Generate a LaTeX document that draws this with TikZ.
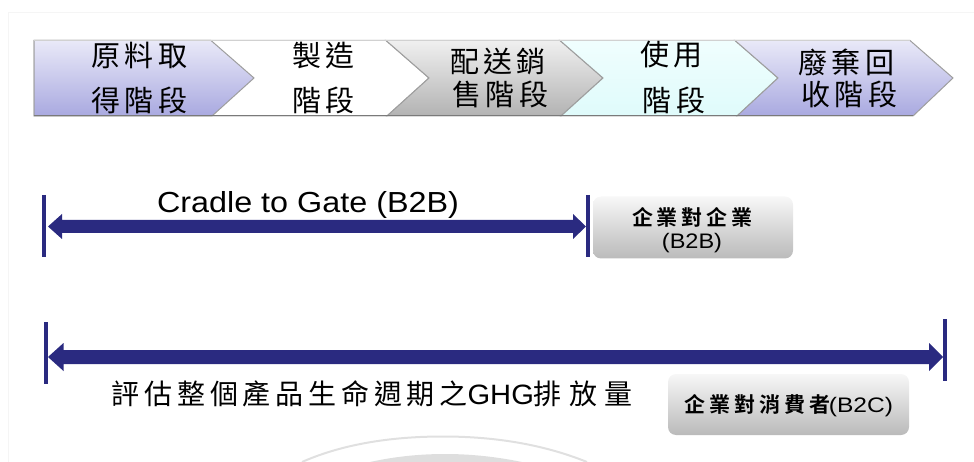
\documentclass[tikz,border=0pt]{standalone}
\usepackage{fontspec}
\setmainfont{Liberation Sans}
\newfontfamily\cjk[LetterSpace=14]{Noto Sans CJK TC}
\newfontfamily\cjkbold[LetterSpace=19]{Noto Sans CJK TC Bold}
\definecolor{navy}{HTML}{2A2A80}
\definecolor{lavtop}{HTML}{E9E9F8}
\definecolor{lavbot}{HTML}{A9A9E0}
\definecolor{cyantop}{HTML}{F0FEFE}
\definecolor{cyanbot}{HTML}{DFFBFB}
\tikzset{x=1pt,y=-1pt,
 chev/.style={draw=black!38,line width=1pt},
 cjklab/.style={font=\cjk\fontsize{29}{29}\selectfont,text=black,inner sep=0pt,anchor=center},
 bar/.style={draw=navy,line width=4pt},
 greybox/.style={draw=none,rounded corners=8pt,top color=black!3,bottom color=black!27},
 boldlab/.style={font=\cjkbold\fontsize{21}{21}\selectfont,inner sep=0pt},
 arcline/.style={draw=black!12,line width=2pt}}
\begin{document}
\begin{tikzpicture}
\useasboundingbox (0,0) rectangle (974,462);
\draw[black!4,line width=1pt] (8.5,462) -- (8.5,12.5) -- (974,12.5);
% chevrons (back to front)
\path[chev,top color=white,bottom color=white] (34,40.5) -- (386,40.5) -- (429,78) -- (387,116) -- (34,116) -- cycle;
\path[chev,top color=black!6,bottom color=black!30] (386,40.5) -- (560,40.5) -- (603,78) -- (561,116) -- (387,116) -- (429,78) -- cycle;
\path[chev,top color=cyantop,bottom color=cyanbot] (560,40.5) -- (735,40.5) -- (778,78) -- (737,116) -- (561,116) -- (603,78) -- cycle;
\path[chev,top color=lavtop,bottom color=lavbot] (735,40.5) -- (910,40.5) -- (953,78) -- (913,116) -- (737,116) -- (778,78) -- cycle;
\path[chev,top color=lavtop,bottom color=lavbot] (34,40.5) -- (211,40.5) -- (254,78) -- (212,116) -- (34,116) -- cycle;
\draw[black!18,line width=1pt] (34,40.5) -- (910,40.5);
\draw[black!52,line width=1pt] (34,116) -- (913,116);
\node[cjklab] (a1) at (139.5,55) {原料取};
\node[cjklab] (a2) at (139.5,100) {得階段};
\node[cjklab] (b1) at (323.5,56) {製造};
\node[cjklab] (b2) at (323.5,100) {階段};
\node[cjklab] (c1) at (498,62) {配送銷};
\node[cjklab] (c2) at (500.5,94) {售階段};
\node[cjklab] (d1) at (671.5,55) {使用};
\node[cjklab] (d2) at (674,100) {階段};
\node[cjklab] (e1) at (846.5,62) {廢棄回};
\node[cjklab] (e2) at (849.5,94) {收階段};
% upper span
\draw[bar] (43.7,195) -- (43.7,257);
\draw[bar] (588,195) -- (588,257);
\fill[navy] (48,226.5) -- (62,214) -- (62,220) -- (573,220) -- (573,214) -- (586,226.5) -- (573,239) -- (573,233) -- (62,233) -- (62,239) -- cycle;
\node[inner sep=0pt] (t1) at (308,205) {\scalebox{1.115}[1]{\fontsize{29}{29}\selectfont Cradle to Gate (B2B)}};
\node[greybox,minimum width=200pt,minimum height=62pt] (box1) at (693,227.5) {};
\node[boldlab] (b1a) at (692.5,217) {企業對企業};
\node[inner sep=0pt] (b1b) at (692,243) {\scalebox{1.12}[1]{\fontsize{21}{21}\selectfont (B2B)}};
% lower span
\draw[bar] (45.7,322) -- (45.7,384);
\draw[bar] (945,319) -- (945,381);
\fill[navy] (48,357) -- (63.5,343) -- (63.5,350) -- (929,350) -- (929,343) -- (943,357) -- (929,371) -- (929,364) -- (63.5,364) -- (63.5,371) -- cycle;
\node[inner sep=0pt] (t2) at (372.5,394) {\fontsize{28}{28}\selectfont{\cjk\addfontfeatures{LetterSpace=17}評估整個產品生命週期之}\scalebox{1.04}[1]{GHG}{\cjk\addfontfeatures{LetterSpace=27}排放量}};
\node[greybox,minimum width=241pt,minimum height=61pt] (box2) at (788.5,404.5) {};
\node[inner sep=0pt] (b2a) at (789,406) {{\cjkbold\fontsize{21}{21}\selectfont 企業對消費者}\hspace{-2pt}\scalebox{1.17}[1]{\fontsize{21}{21}\selectfont (B2C)}};
% arcs
\draw[arcline] (302,462) .. controls (345,443) and (395,436.5) .. (443,436.5) .. controls (490,436.5) and (540,443) .. (587,462);
\fill[black!13] (370,462) .. controls (395,456.5) and (420,454) .. (445,454) .. controls (470,454) and (495,456.5) .. (522,462) -- cycle;
\end{tikzpicture}
\end{document}
